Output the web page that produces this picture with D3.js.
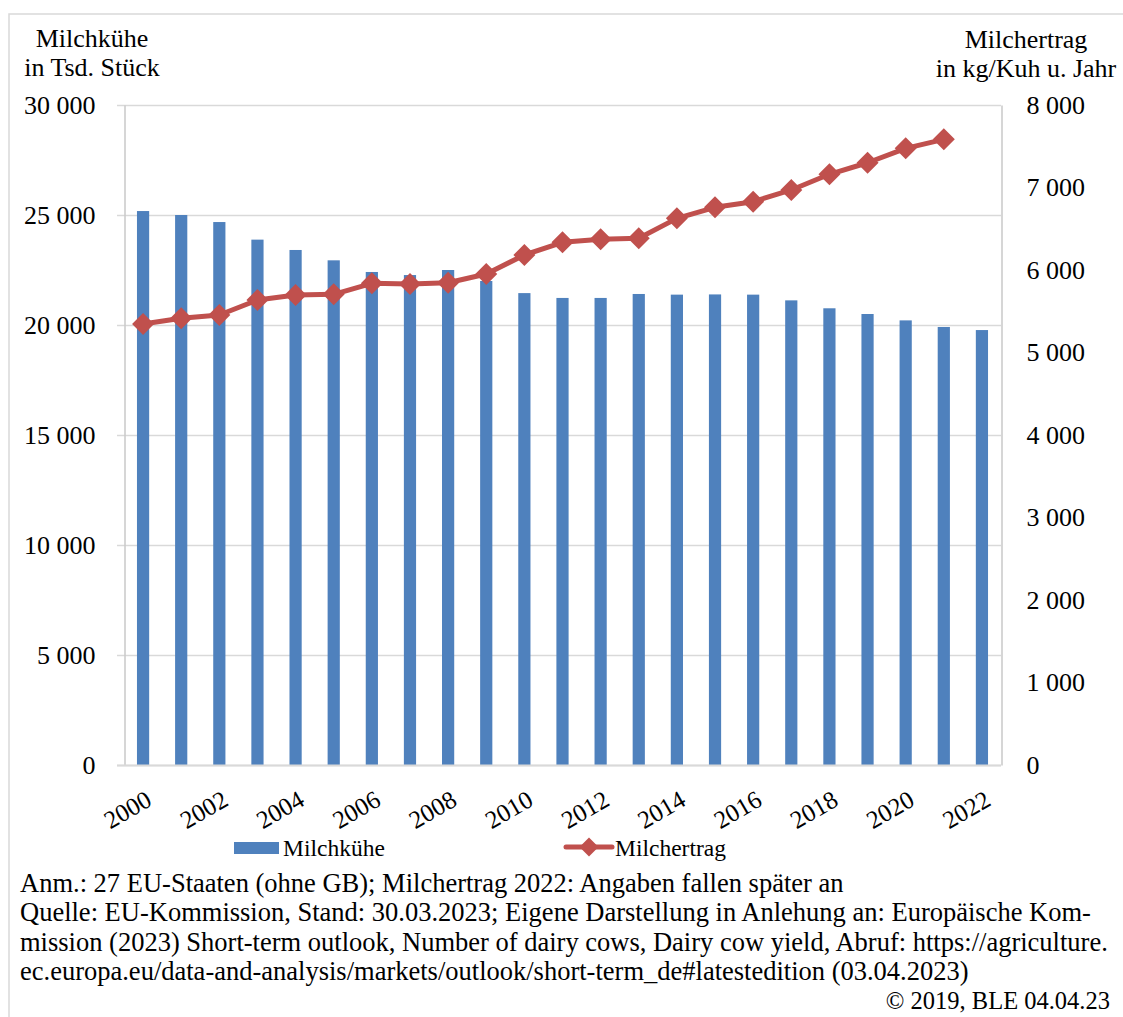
<!DOCTYPE html>
<html>
<head>
<meta charset="utf-8">
<script src="https://cdn.jsdelivr.net/npm/d3@7"></script>
<style>
  html, body { margin: 0; padding: 0; background: #fff; }
  svg { display: block; font-family: "Liberation Serif", "Times New Roman", serif; }
</style>
</head>
<body>
<svg id="chart" width="1123" height="1017"></svg>
<script>
// ---- Data ----
const years = ["2000","2001","2002","2003","2004","2005","2006","2007","2008","2009","2010","2011",
               "2012","2013","2014","2015","2016","2017","2018","2019","2020","2021","2022"];
const milchkuehe = [25180, 25000, 24680, 23880, 23410, 22940, 22410, 22270, 22500, 22000, 21450, 21230,
                    21230, 21410, 21380, 21390, 21380, 21120, 20760, 20500, 20210, 19910, 19770];
const milchertrag = [5345, 5414, 5455, 5636, 5697, 5705, 5838, 5830, 5846, 5952, 6182, 6335,
                     6372, 6384, 6626, 6760, 6828, 6970, 7160, 7300, 7475, 7584, null];
const leftTicks = [0, 5000, 10000, 15000, 20000, 25000, 30000];
const rightTicks = [0, 1000, 2000, 3000, 4000, 5000, 6000, 7000, 8000];
const xLabelYears = ["2000","2002","2004","2006","2008","2010","2012","2014","2016","2018","2020","2022"];
const footerLines = [
  "Anm.: 27 EU-Staaten (ohne GB); Milchertrag 2022: Angaben fallen später an",
  "Quelle: EU-Kommission, Stand: 30.03.2023; Eigene Darstellung in Anlehung an: Europäische Kom-",
  "mission (2023) Short-term outlook, Number of dairy cows, Dairy cow yield, Abruf: https://agriculture.",
  "ec.europa.eu/data-and-analysis/markets/outlook/short-term_de#latestedition (03.04.2023)"
];
const copyright = "© 2019, BLE 04.04.23";

// ---- Styles ----
const barColor = "#4F81BD";
const lineColor = "#C0504D";
const gridColor = "#d9d9d9";
const axisColor = "#c8c8c8";
const serif = "Liberation Serif";

const svg = d3.select("#chart");
svg.append("rect").attr("width", 1123).attr("height", 1017).attr("fill", "#fff");
// outer frame
svg.append("rect").attr("x", 9).attr("y", 14).attr("width", 1130).attr("height", 1020)
  .attr("fill", "none").attr("stroke", gridColor).attr("stroke-width", 1.5);

const pLeft = 124, pRight = 1001, pTop = 105, pBottom = 765;

const x = d3.scaleBand().domain(years).range([pLeft, pRight]).paddingInner(0.68).paddingOuter(0.34);
const yL = d3.scaleLinear().domain([0, 30000]).range([pBottom, pTop]);
const yR = d3.scaleLinear().domain([0, 8000]).range([pBottom, pTop]);

const loc = d3.formatLocale({decimal: ",", thousands: " ", grouping: [3], currency: ["", ""]});
const fmt = loc.format(",");

// gridlines
svg.append("g").selectAll("line").data(leftTicks).join("line")
  .attr("x1", pLeft - 7).attr("x2", pRight)
  .attr("y1", d => yL(d) + 0.5).attr("y2", d => yL(d) + 0.5)
  .attr("stroke", gridColor).attr("stroke-width", 1.5);

// left axis
const gL = svg.append("g").attr("transform", `translate(${pLeft + 0.5},0)`)
  .call(d3.axisLeft(yL).tickValues(leftTicks).tickFormat(fmt).tickSize(0).tickPadding(29));
gL.attr("font-family", serif);
gL.select(".domain").attr("stroke", axisColor).attr("stroke-width", 1.5);
gL.selectAll("text").attr("font-size", 26).attr("font-family", serif).attr("fill", "#000");

// right axis
const gR = svg.append("g").attr("transform", `translate(${pRight + 0.5},0)`)
  .call(d3.axisRight(yR).tickValues(rightTicks).tickFormat(fmt).tickSize(0).tickPadding(25));
gR.attr("font-family", serif);
gR.select(".domain").attr("stroke", axisColor).attr("stroke-width", 1.5);
gR.selectAll("text").attr("font-size", 26).attr("font-family", serif).attr("fill", "#000");

// bars
svg.append("g").selectAll("rect").data(years).join("rect")
  .attr("x", d => x(d)).attr("width", x.bandwidth())
  .attr("y", (d, i) => yL(milchkuehe[i]))
  .attr("height", (d, i) => yL(0) - yL(milchkuehe[i]))
  .attr("fill", barColor);

// bottom axis line
svg.append("line").attr("x1", pLeft - 7).attr("x2", pRight).attr("y1", pBottom + 0.5).attr("y2", pBottom + 0.5)
  .attr("stroke", gridColor).attr("stroke-width", 2);

// x labels
svg.append("g").selectAll("text").data(xLabelYears).join("text")
  .attr("transform", d => `translate(${x(d) + x.bandwidth() / 2 + 6},797) rotate(-30)`)
  .attr("text-anchor", "end").attr("dy", "0.35em")
  .attr("font-size", 25).attr("fill", "#000").text(d => d);

// line
const pts = years.map((d, i) => ({year: d, v: milchertrag[i]})).filter(p => p.v != null);
const line = d3.line().x(p => x(p.year) + x.bandwidth() / 2).y(p => yR(p.v));
svg.append("path").datum(pts).attr("d", line).attr("fill", "none")
  .attr("stroke", lineColor).attr("stroke-width", 5).attr("stroke-linejoin", "round");
const diamond = r => `M0,${-r}L${r},0L0,${r}L${-r},0Z`;
svg.append("g").selectAll("path").data(pts).join("path")
  .attr("transform", p => `translate(${x(p.year) + x.bandwidth() / 2},${yR(p.v)})`)
  .attr("d", diamond(11)).attr("fill", lineColor);

// axis titles
const tL = svg.append("text").attr("font-size", 26).attr("text-anchor", "middle").attr("fill", "#000");
tL.append("tspan").attr("x", 92).attr("y", 47).text("Milchkühe");
tL.append("tspan").attr("x", 92).attr("y", 76).text("in Tsd. Stück");
const tR = svg.append("text").attr("font-size", 26).attr("text-anchor", "middle").attr("fill", "#000");
tR.append("tspan").attr("x", 1026).attr("y", 48).text("Milchertrag");
tR.append("tspan").attr("x", 1026).attr("y", 77).text("in kg/Kuh u. Jahr");

// legend
svg.append("rect").attr("x", 234).attr("y", 842).attr("width", 45).attr("height", 12).attr("fill", barColor);
svg.append("text").attr("x", 283).attr("y", 856).attr("font-size", 23.5).attr("fill", "#000").text("Milchkühe");
svg.append("line").attr("x1", 566).attr("x2", 612).attr("y1", 847).attr("y2", 847)
  .attr("stroke", lineColor).attr("stroke-width", 5).attr("stroke-linecap", "round");
svg.append("path").attr("transform", "translate(589,847)").attr("d", diamond(9.5)).attr("fill", lineColor);
svg.append("text").attr("x", 615).attr("y", 856).attr("font-size", 23.5).attr("fill", "#000").text("Milchertrag");

// footer
svg.append("g").selectAll("text").data(footerLines).join("text")
  .attr("x", 20).attr("y", (d, i) => 892 + i * 29.3)
  .attr("font-size", 26.5).attr("fill", "#000").text(d => d);
svg.append("text").attr("x", 1110).attr("y", 1009).attr("text-anchor", "end")
  .attr("font-size", 24.5).attr("fill", "#000").text(copyright);
</script>
</body>
</html>
